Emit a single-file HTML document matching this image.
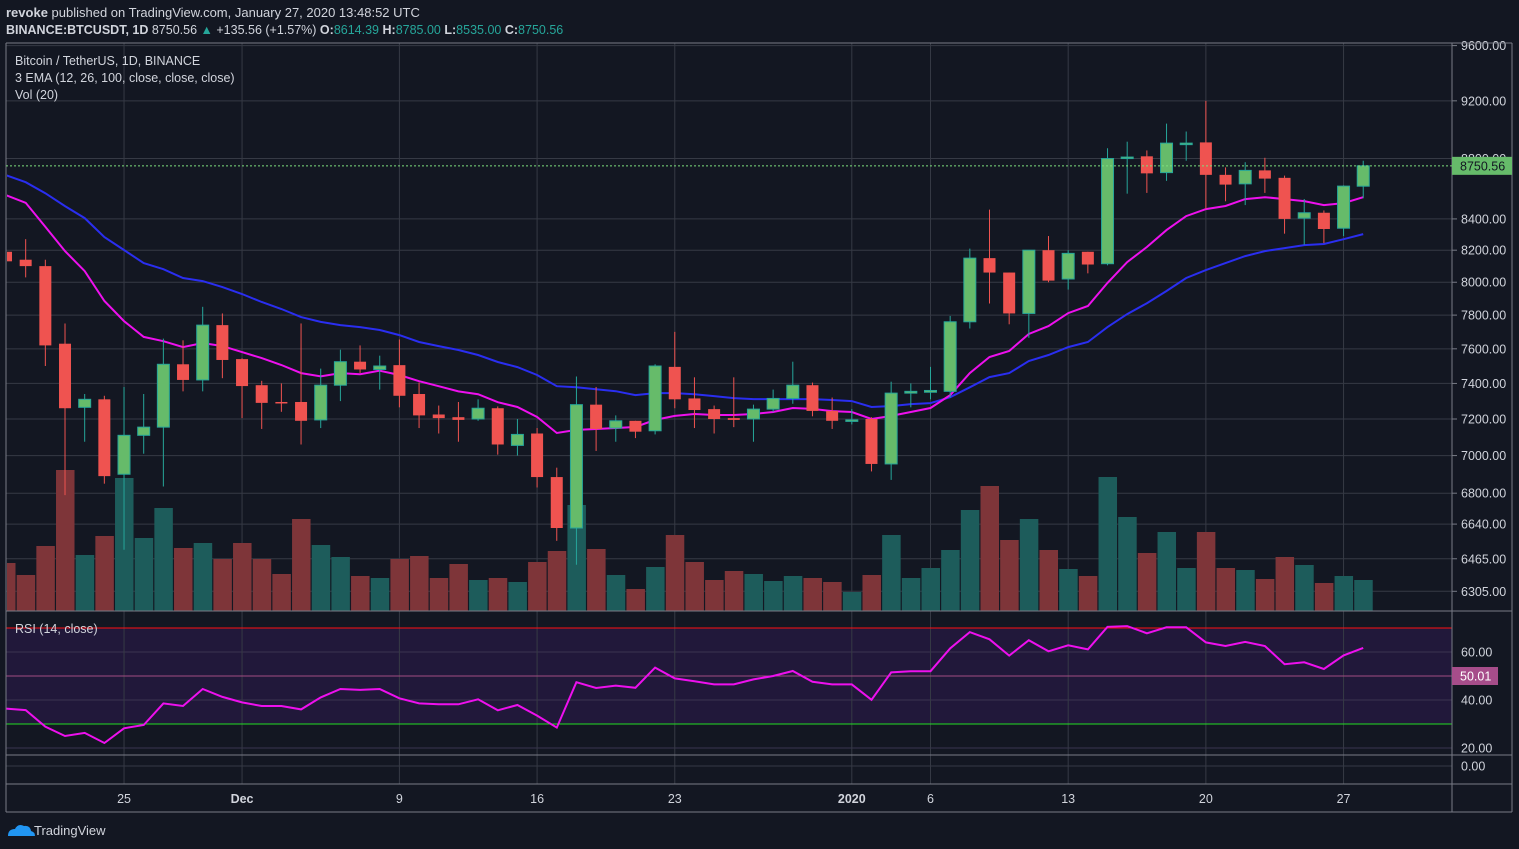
<!DOCTYPE html>
<html><head><meta charset="utf-8">
<style>
html,body{margin:0;padding:0;background:#131722;}
svg{display:block;font-family:"Liberation Sans",sans-serif;}
</style></head>
<body>
<svg id="chart" width="1519" height="849" viewBox="0 0 1519 849" xmlns="http://www.w3.org/2000/svg">
<rect x="0" y="0" width="1519" height="849" fill="#131722"/>
<text x="6" y="17" font-size="13" fill="#d1d4dc"><tspan font-weight="bold">revoke</tspan> published on TradingView.com, January 27, 2020 13:48:52 UTC</text>
<text x="6" y="34" font-size="12.5" fill="#d1d4dc"><tspan font-weight="bold">BINANCE:BTCUSDT, 1D</tspan> 8750.56 <tspan fill="#26a69a">▲</tspan> +135.56 (+1.57%) <tspan font-weight="bold">O:</tspan><tspan fill="#26a69a">8614.39</tspan> <tspan font-weight="bold">H:</tspan><tspan fill="#26a69a">8785.00</tspan> <tspan font-weight="bold">L:</tspan><tspan fill="#26a69a">8535.00</tspan> <tspan font-weight="bold">C:</tspan><tspan fill="#26a69a">8750.56</tspan></text>
<rect x="6" y="628" width="1446" height="96" fill="#21183a"/>
<g id="grid"></g>
<g id="vol" clip-path="url(#mainclip)"></g>
<g id="ema" clip-path="url(#mainclip)"></g>
<g id="candles" clip-path="url(#mainclip)"></g>
<g id="rsi"></g>
<g id="axes"></g>
<defs><clipPath id="mainclip"><rect x="7" y="44" width="1445" height="567"/></clipPath></defs>
<text x="15" y="65" font-size="12.5" fill="#d1d4dc">Bitcoin / TetherUS, 1D, BINANCE</text>
<text x="15" y="82" font-size="12.5" fill="#d1d4dc">3 EMA (12, 26, 100, close, close, close)</text>
<text x="15" y="99" font-size="12.5" fill="#d1d4dc">Vol (20)</text>
<text x="15" y="633" font-size="12.5" fill="#d1d4dc">RSI (14, close)</text>
<g>
<path d="M8 836 q0-7 7-7 q3-6 9-3 q6-1 7 5 q4 1 4 5 z" fill="#2196f3"/>
<text x="34" y="835" font-size="13" fill="#d1d4dc">TradingView</text>
</g>
</svg>
<script>
const opens =  [8190,8140,8100,7630,7265,7310,6900,7110,7155,7510,7420,7740,7540,7390,7295,7295,7195,7390,7525,7480,7505,7340,7225,7210,7200,7260,7055,7120,6885,6620,7280,7150,7190,7135,7495,7315,7255,7205,7200,7255,7315,7390,7245,7190,7200,6955,7345,7350,7355,7760,8150,8060,7810,8200,8020,8190,8115,8805,8815,8705,8900,8910,8690,8630,8720,8670,8405,8440,8340,8614.39];
const highs =  [8200,8270,8140,7750,7340,7330,7380,7340,7660,7650,7850,7810,7545,7415,7400,7750,7485,7595,7620,7560,7655,7405,7275,7295,7310,7270,7200,7150,6935,7440,7380,7220,7190,7510,7700,7435,7275,7435,7280,7365,7525,7405,7320,7255,7210,7410,7400,7495,7795,8210,8460,8060,8200,8290,8200,8190,8870,8915,8855,9040,8985,9200,8740,8775,8805,8685,8530,8455,8620,8785];
const lows =   [8120,8030,7500,6790,7075,6850,6510,7010,6835,7355,7355,7430,7205,7145,7240,7060,7150,7300,7460,7365,7265,7150,7120,7075,7190,7005,7000,6830,6555,6435,7025,7075,7095,7115,7260,7150,7120,7155,7075,7240,7285,7215,7145,7170,6915,6870,7265,7310,7320,7720,7870,7745,7665,8000,7955,8055,8105,8565,8570,8650,8785,8465,8515,8490,8570,8305,8235,8245,8290,8535];
const closes = [8130,8100,7620,7260,7310,6890,7110,7155,7510,7420,7740,7535,7385,7290,7290,7190,7390,7525,7480,7500,7330,7220,7205,7195,7260,7060,7115,6885,6620,7280,7145,7190,7130,7500,7310,7250,7200,7195,7255,7315,7390,7245,7190,7195,6955,7345,7355,7360,7760,8150,8060,7810,8200,8010,8180,8110,8800,8810,8700,8905,8905,8690,8625,8720,8665,8400,8440,8335,8615,8750.56];
const volumes = [48,36,65,141,56,75,133,73,103,63,68,52,68,52,37,92,66,54,35,33,52,55,33,47,31,33,29,49,60,106,62,36,22,44,76,49,31,40,37,30,35,33,29,19,36,76,33,43,61,101,125,71,92,61,42,35,134,94,58,79,43,79,43,41,32,54,46,28,35,31];
const ema12 = [8555,8505,8350,8194,8069,7885,7764,7670,7645,7610,7634,7616,7581,7546,7506,7459,7441,7459,7453,7473,7448,7413,7384,7355,7339,7294,7267,7211,7123,7140,7145,7150,7156,7195,7217,7228,7222,7222,7228,7239,7261,7256,7244,7239,7200,7217,7239,7261,7334,7459,7552,7587,7687,7734,7812,7855,7996,8125,8220,8328,8418,8464,8484,8529,8542,8529,8516,8490,8503,8542];
const ema26 = [8688,8641,8568,8483,8405,8283,8201,8119,8081,8026,8007,7970,7928,7879,7837,7788,7759,7740,7728,7711,7681,7640,7616,7593,7564,7523,7494,7448,7384,7378,7367,7356,7334,7345,7345,7339,7328,7317,7311,7311,7311,7311,7306,7300,7267,7272,7283,7289,7322,7378,7436,7459,7529,7564,7610,7640,7728,7806,7872,7946,8026,8075,8119,8163,8194,8213,8232,8239,8270,8302];
const rsiValues = [36.4,35.8,28.9,25,26.3,22.1,28.2,29.6,38.6,37.5,44.6,41.3,39,37.5,37.5,36.1,41.1,44.6,44.2,44.6,40.7,38.6,38.2,38.2,40.3,35.7,37.9,33.5,28.5,47.4,45,46,45.1,53.5,49,47.8,46.5,46.5,48.6,50,52.1,47.6,46.5,46.5,40.1,51.5,52,52,61.5,68.3,65.3,58.5,64.9,60.3,62.8,61.1,70.5,70.8,67.8,70.3,70.3,64,62.5,64.2,62.5,54.9,55.7,52.9,58.6,61.7];
const priceTicks = [9600,9200,8800,8400,8200,8000,7800,7600,7400,7200,7000,6800,6640,6465,6305];
const priceTickLabels = ["9600.00","9200.00","8800.00","8400.00","8200.00","8000.00","7800.00","7600.00","7400.00","7200.00","7000.00","6800.00","6640.00","6465.00","6305.00"];
const rsiTicks = [60,40,20];
const rsiTickLabels = ["60.00","40.00","20.00"];
const dateIdx = [6,12,20,27,34,43,47,54,61,68];
const dateLabels = ["25","Dec","9","16","23","2020","6","13","20","27"];
const lastPrice = 8750.56;

const NS="http://www.w3.org/2000/svg";
function xAt(i){return 6+i*19.67;}
function yP(p){return 419-1298*Math.log(p/7200);}
function yV(v){return 611-v;}
function yR(r){return 796-2.4*r;}
function mk(tag,attrs,parent){const e=document.createElementNS(NS,tag);for(const k in attrs)e.setAttribute(k,attrs[k]);parent.appendChild(e);return e;}
const grid=document.getElementById('grid'),axes=document.getElementById('axes');
const GRID="#363a45";
priceTicks.forEach((p,k)=>{
  const y=yP(p);
  const l=mk('line',{x1:6,x2:1452,y1:y,y2:y,stroke:GRID,'stroke-width':1},grid);
  
  
  const t=mk('line',{x1:1452,x2:1457,y1:y,y2:y,stroke:'#787b86'},axes);
  
  
  const tx=mk('text',{x:1461,y:y+4.5,'font-size':12.5,fill:'#d1d4dc'},axes);
  tx.textContent=priceTickLabels[k];
  
  
});
rsiTicks.forEach((r,k)=>{
  const y=yR(r);
  const l=mk('line',{x1:6,x2:1452,y1:y,y2:y,stroke:'#3a3550','stroke-width':1},grid);
  
  
  const tx=mk('text',{x:1461,y:y+4.5,'font-size':12.5,fill:'#d1d4dc'},axes);
  tx.textContent=rsiTickLabels[k];
  
  
});
{const l=mk('line',{x1:6,x2:1452,y1:766,y2:766,stroke:GRID},grid);


const tx=mk('text',{x:1461,y:770.5,'font-size':12.5,fill:'#d1d4dc'},axes);tx.textContent="0.00";

}
dateIdx.forEach((i,k)=>{
  const x=xAt(i);
  const l=mk('line',{x1:x,x2:x,y1:43,y2:784,stroke:GRID},grid);
  
  
  const tx=mk('text',{x:x,y:803,'font-size':12.5,fill:'#d1d4dc','text-anchor':'middle','font-weight':(dateLabels[k]==="Dec"||dateLabels[k]==="2020")?'bold':'normal'},axes);
  tx.textContent=dateLabels[k];
  
  
});
[[70,'#ff1010'],[50,'#a14c82'],[30,'#22dd22']].forEach(([v,c])=>{
  const l=mk('line',{x1:6,x2:1452,y1:yR(v),y2:yR(v),stroke:c,'stroke-width':1},grid);
  
  
});
[[6,43,6,812],[1452,43,1452,812],[1512,43,1512,812],[6,43,1512,43],[6,611,1512,611],[6,755,1512,755],[6,784,1512,784],[6,812,1512,812]].forEach(a=>{
  const l=mk('line',{x1:a[0],y1:a[1],x2:a[2],y2:a[3],stroke:'#787b86','stroke-width':1},axes);
  
  
});
const vol=document.getElementById('vol');
volumes.forEach((v,i)=>{
  const up=closes[i]>=opens[i];
  const r=mk('rect',{x:xAt(i)-9,y:yV(v),width:18.5,height:v,fill:up?'#1d5c5b':'#7e3539'},vol);
  
  
});
const ema=document.getElementById('ema');
function line(arr,color,name){
  const d=arr.map((p,i)=>(i?'L':'M')+xAt(i).toFixed(1)+' '+yP(p).toFixed(1)).join(' ');
  const e=mk('path',{d:d,fill:'none',stroke:color,'stroke-width':2},ema);
  
  
}
line(ema26,'#2a2ef0','ema-26-line');
line(ema12,'#ee10ee','ema-12-line');
{const l=mk('line',{x1:6,x2:1452,y1:yP(lastPrice),y2:yP(lastPrice),stroke:'#7ee07e','stroke-dasharray':'2 2'},document.getElementById('chart'));

}
const cg=document.getElementById('candles');
opens.forEach((o,i)=>{
  const c=closes[i],up=c>=o,x=xAt(i);
  const w=mk('line',{x1:x,x2:x,y1:yP(highs[i]),y2:yP(lows[i]),stroke:up?'#26a69a':'#ef5350','stroke-width':1},cg);
  
  
  const top=yP(Math.max(o,c)),bot=yP(Math.min(o,c));
  const b=mk('rect',{x:x-6,y:top,width:12,height:Math.max(bot-top,1.5),fill:up?'#66bb6a':'#ef5350',stroke:up?'#26a69a':'none','stroke-width':1},cg);
  
  
});
{const d=rsiValues.map((r,i)=>(i?'L':'M')+xAt(i).toFixed(1)+' '+yR(r).toFixed(1)).join(' ');
const p=mk('path',{d:d,fill:'none',stroke:'#ee10ee','stroke-width':2},document.getElementById('rsi'));

}
{const y=yP(lastPrice);
const r=mk('rect',{x:1452,y:y-9,width:60,height:18,fill:'#66bb6a'},axes);


const t=mk('text',{x:1460,y:y+4.5,'font-size':12.5,fill:'#131722'},axes);t.textContent="8750.56";


const r2=mk('rect',{x:1452,y:yR(50)-9,width:46,height:18,fill:'#a64d8a'},axes);


const t2=mk('text',{x:1460,y:yR(50)+4.5,'font-size':12.5,fill:'#ffffff'},axes);t2.textContent="50.01";

}
</script>
</body></html>
